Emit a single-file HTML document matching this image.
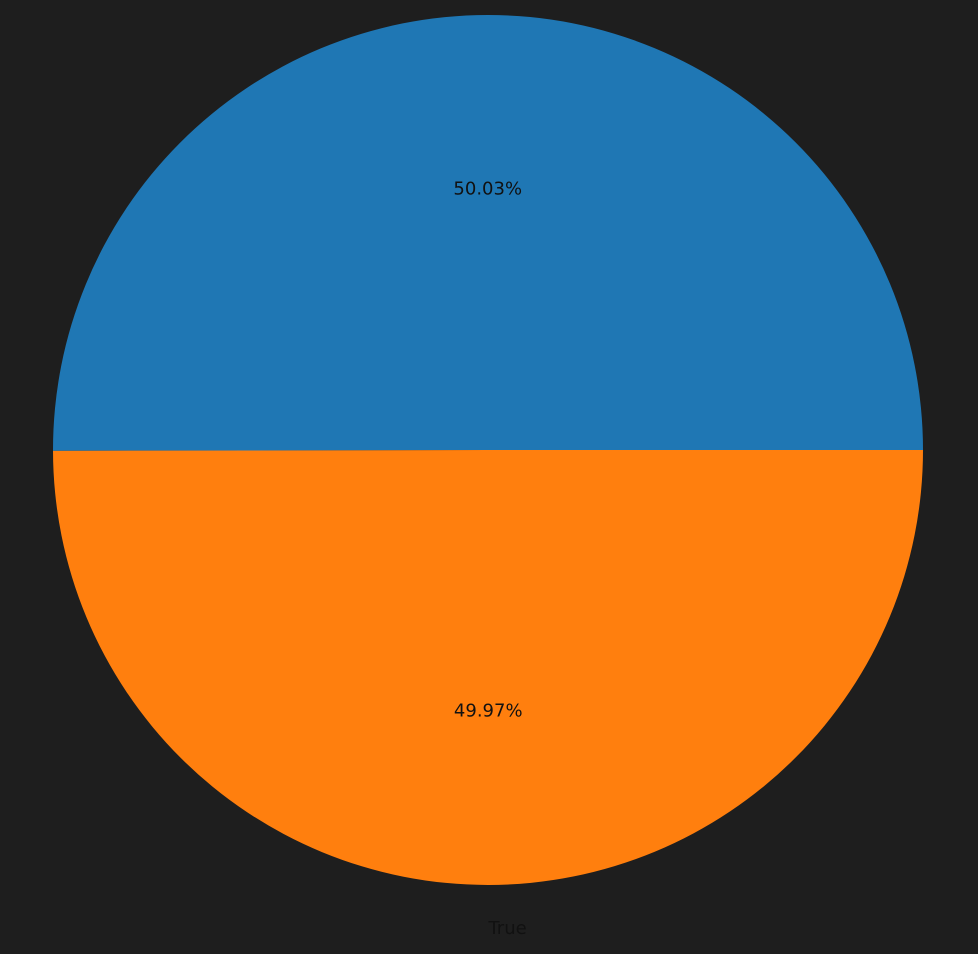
<!DOCTYPE html>
<html><head><meta charset="utf-8"><style>
html,body{margin:0;padding:0;background:#1e1e1e;width:978px;height:954px;overflow:hidden}
svg{display:block}
text{font-family:"DejaVu Sans","Liberation Sans",sans-serif;font-size:18px;fill:#111}
</style></head><body>
<svg id="chart" width="978" height="954" viewBox="0 0 978 954"></svg>
<script>
const categories = ["False", "True"];
const values = [50.03, 49.97];
const pctLabels = ["50.03%", "49.97%"];
const showLabel = [false, true];

const colors = ["#1f77b4", "#ff7f0e"];
const cx = 488, cy = 450, r = 435;
const svg = document.getElementById('chart');
const NS = "http://www.w3.org/2000/svg";
const total = values.reduce((a,b)=>a+b,0);
function pt(angDeg, rad){ const a = angDeg*Math.PI/180; return [cx + rad*Math.cos(a), cy - rad*Math.sin(a)]; }
let start = 0;
values.forEach((v,i)=>{
  const sweep = v/total*360;
  const end = start + sweep;
  const [x1,y1] = pt(start, r), [x2,y2] = pt(end, r);
  const large = sweep > 180 ? 1 : 0;
  const p = document.createElementNS(NS,'path');
  p.setAttribute('d', `M${cx},${cy} L${x1},${y1} A${r},${r} 0 ${large} 0 ${x2},${y2} Z`);
  p.setAttribute('fill', colors[i]);
  
  
  svg.appendChild(p);
  const mid = start + sweep/2;
  const [tx,ty] = pt(mid, r*0.6);
  const t = document.createElementNS(NS,'text');
  t.setAttribute('x', tx); t.setAttribute('y', ty);
  t.setAttribute('text-anchor','middle'); t.setAttribute('dominant-baseline','central');
  t.textContent = pctLabels[i];
  
  
  svg.appendChild(t);
  if (showLabel[i]) {
    const [lx,ly] = pt(mid, r*1.1);
    const l = document.createElementNS(NS,'text');
    l.setAttribute('x', lx); l.setAttribute('y', ly);
    l.setAttribute('text-anchor', Math.cos(mid*Math.PI/180) >= 0 ? 'start' : 'end');
    l.setAttribute('dominant-baseline','central');
    l.textContent = categories[i];
    
    
    svg.appendChild(l);
  }
  start = end;
});
</script>
</body></html>
